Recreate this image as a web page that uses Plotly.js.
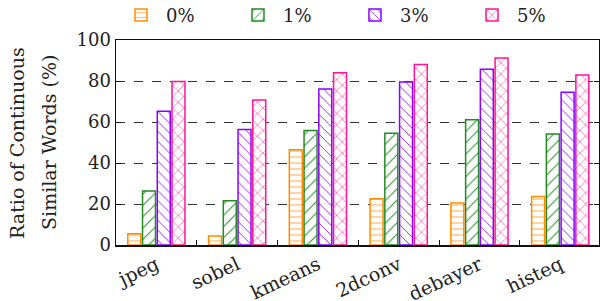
<!DOCTYPE html>
<html>
<head>
<meta charset="utf-8">
<script src="https://cdn.plot.ly/plotly-3.0.1.min.js"></script>
<style>html,body{margin:0;padding:0;background:#fff;}#chart{width:600px;height:301px;}</style>
</head>
<body>
<div id="chart"></div>
<script>
const categories = ["jpeg", "sobel", "kmeans", "2dconv", "debayer", "histeq"];
const seriesNames = ["0%", "1%", "3%", "5%"];
const values0 = [5.5, 4.4, 46.5, 22.6, 20.5, 23.6];
const values1 = [26.3, 21.6, 55.8, 54.5, 61.1, 54.1];
const values3 = [65.2, 56.3, 76.1, 79.5, 85.7, 74.5];
const values5 = [79.7, 70.7, 84.0, 88.1, 91.2, 82.9];
const yTickVals = [0, 20, 40, 60, 80, 100];
const yTitleLines = ["Ratio of Continuous", "Similar Words (%)"];

const allValues = [values0, values1, values3, values5];
const colors = ["#FF8C00", "#228B22", "#8B00FF", "#FF1493"];
const shapes = ["-", "/", "\\", "x"];
const sizes = [6, 8, 7, 8];

const traces = allValues.map((vals, i) => ({
  type: "bar",
  name: seriesNames[i],
  x: categories,
  y: vals,
  marker: {
    color: "white",
    line: {color: colors[i], width: 1.5},
    pattern: {shape: shapes[i], fgcolor: colors[i], bgcolor: "white", size: sizes[i], solidity: 0.12}
  }
}));

const fam = "DejaVu Serif, serif";

const layout = {
  width: 600, height: 301,
  margin: {l: 116, r: 1, t: 40, b: 56, autoexpand: false},
  paper_bgcolor: "white", plot_bgcolor: "white",
  font: {family: fam, size: 17, color: "#222"},
  barmode: "group",
  bargap: 0.27,
  bargroupgap: 0.12,
  showlegend: true,
  legend: {
    orientation: "h", x: 0, xanchor: "left", y: 1.03, yanchor: "bottom",
    font: {family: fam, size: 18, color: "#222"},
    entrywidth: 62, entrywidthmode: "pixels",
    bgcolor: "rgba(0,0,0,0)", itemwidth: 40
  },
  xaxis: {
    type: "category",
    range: [-0.5, 5.48],
    tickson: "boundaries",
    ticks: "inside", ticklen: 5, tickcolor: "#111", tickwidth: 1,
    showline: true, linecolor: "#111", linewidth: 1.5, mirror: true,
    tickangle: -25,
    tickfont: {family: fam, size: 19, color: "#222"},
    showgrid: false
  },
  yaxis: {
    range: [0, 100],
    tickvals: yTickVals,
    ticks: "inside", ticklen: 5, tickcolor: "#111",
    showline: true, linecolor: "#111", linewidth: 1.5, mirror: "ticks",
    showgrid: true, gridcolor: "#333", griddash: "dash", gridwidth: 1,
    zeroline: false,
    tickfont: {family: fam, size: 18, color: "#222"}
  },
  annotations: [
    {text: yTitleLines[0], xref: "paper", yref: "paper", x: -0.2, y: 0.5, xanchor: "center", yanchor: "middle",
     textangle: -90, showarrow: false, font: {family: fam, size: 19, color: "#222"}, xshift: -3},
    {text: yTitleLines[1], xref: "paper", yref: "paper", x: -0.2, y: 0.5, xanchor: "center", yanchor: "middle",
     textangle: -90, showarrow: false, font: {family: fam, size: 19, color: "#222"}, xshift: 29}
  ]
};

Plotly.newPlot("chart", traces, layout, {displayModeBar: false, staticPlot: true});
</script>
</body>
</html>
